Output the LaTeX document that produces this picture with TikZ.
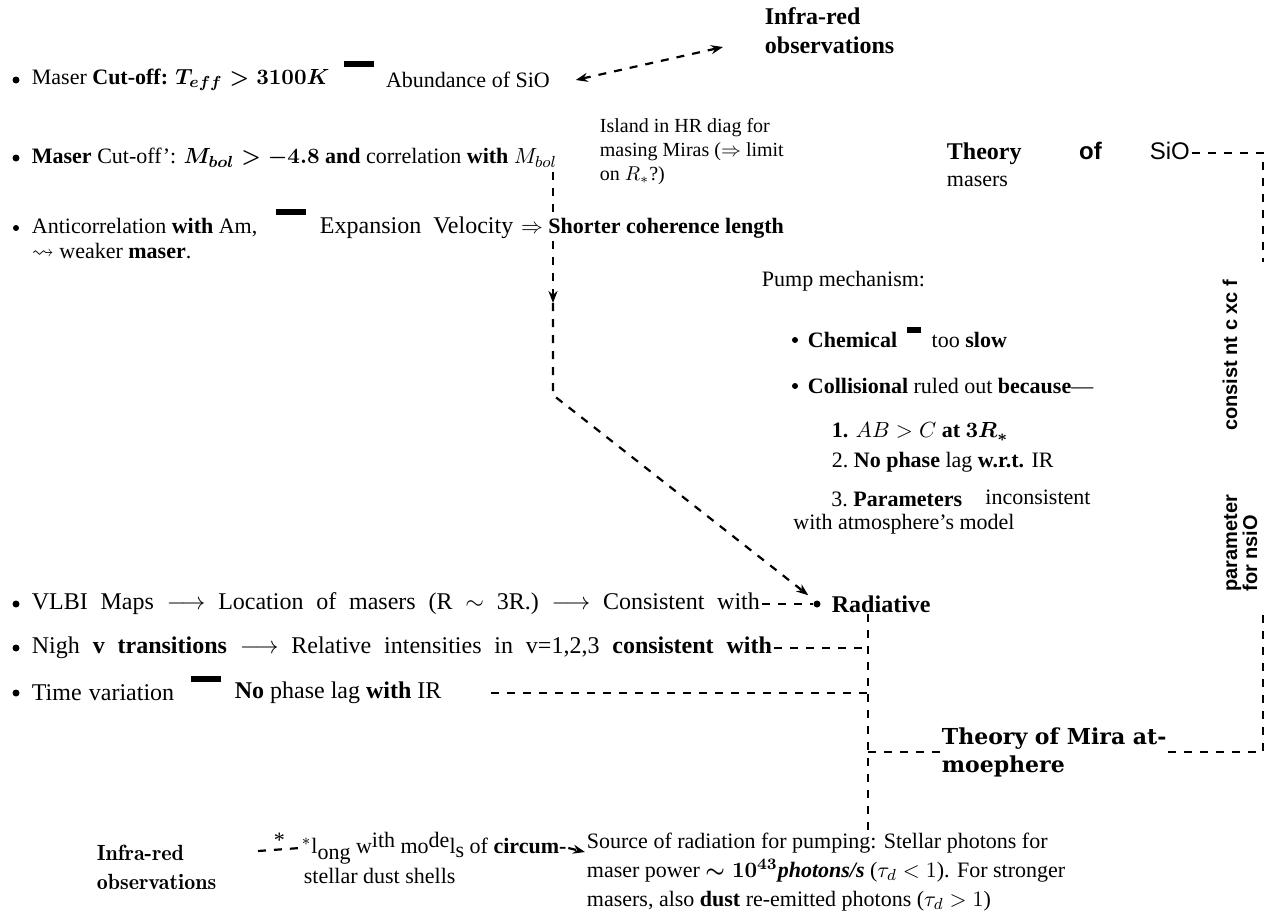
\documentclass[tikz,border=0pt]{standalone}
\usepackage{amsmath}
\usepackage{amssymb}
\usepackage{fontspec}
\setmainfont{Liberation Serif}
\newfontfamily\mirafont{DejaVu Serif}
\newfontfamily\sansfont{Liberation Sans}
\usetikzlibrary{positioning}
\usetikzlibrary{arrows.meta}

\begin{document}
\begin{tikzpicture}[x=0.5pt,y=-0.5pt,
  txt/.style={anchor=west,inner sep=0.75pt,font=\fontsize{11}{14.5}\selectfont},
  bigtxt/.style={anchor=west,inner sep=0.75pt,font=\fontsize{12}{14.5}\selectfont},
  dashln/.style={line width=1.1pt,dash pattern=on 4pt off 4pt},
  barbox/.style={fill=black,minimum width=15pt,minimum height=3pt,inner sep=0pt},
  dot/.style={circle,fill=black,inner sep=0pt,minimum size=3.5pt},
  sidetxt/.style={rotate=90,anchor=west,inner sep=0.5pt,font=\sansfont\fontsize{10}{11}\selectfont\bfseries}]
\useasboundingbox (0,0) rectangle (1278,922);

%Text: infra-red at the top
\node[txt,align=left,font=\fontsize{12}{14.5}\selectfont\bfseries] (irtop) at (763,31) {Infra-red\\observations};

%Bullets: maser cut-off
\node[dot] (b1) at (16,80) {};
\node[txt] (cutT) at (30,80) {Maser \textbf{Cut-off:} $\boldsymbol{T_{eff} > 3100K}$};
\node[barbox, right=6pt of cutT, yshift=8pt] (bar1) {};
\node[txt, right=5pt of bar1, yshift=-8pt] (abund) {Abundance of SiO};

\node[dot] (b2) at (16,158) {};
\node[txt] (cut2) at (30,158) {\textbf{Maser} Cut-off': $\boldsymbol{M_{bol} > -4.8}$ \textbf{and} correlation \textbf{with} $M_{bol}$};

%Text: island in HR diagram
\node[txt,align=left,font=\fontsize{10}{12}\selectfont] (island) at (598,152) {Island in HR diag for\\masing Miras ($\Rightarrow$ limit\\on $R_*$?)};

%Text: theory of SiO masers
\node[txt,font=\fontsize{12}{14}\selectfont] (thsio) at (945,153) {\textbf{Theory}\hspace{2.4em}{\sansfont\bfseries of}\hspace{2em}{\sansfont SiO}};
\node[txt] (masers) at (945,181) {masers};

%Bullets: anticorrelation
\node[dot,minimum size=3pt] (b3) at (16,228) {};
\node[txt] (anti) at (30,228) {Anticorrelation \textbf{with} Am,};
\node[barbox, right=8pt of anti, yshift=8pt] (bar3) {};
\node[bigtxt, right=6pt of bar3, yshift=-8pt] (expv) {Expansion\hspace{0.5em}Velocity};
\node[txt, right=2pt of expv] (shorter) {$\Rightarrow$ \textbf{Shorter coherence length}};
\node[txt] (weak) at (30,251) {$\rightsquigarrow$ weaker \textbf{maser}.};

%Text: pump mechanism
\node[txt] (pump) at (760,281) {Pump mechanism:};
\node[dot,minimum size=3pt] (b5) at (795,340) {};
\node[txt] (chem) at (806,340) {\textbf{Chemical}};
\node[barbox,minimum width=7pt, right=4pt of chem, yshift=5pt] (bar5) {};
\node[txt, right=4pt of bar5, yshift=-5pt] (slow) {too \textbf{slow}};
\node[dot,minimum size=3pt] (b6) at (795,386) {};
\node[txt] (coll) at (806,386) {\textbf{Collisional} ruled out \textbf{because}---};
\node[txt] (r1) at (830,432) {\textbf{1.} $AB > C$ \textbf{at} $\boldsymbol{3R_*}$};
\node[txt] (r2) at (830,462) {2.\ \textbf{No phase} lag \textbf{w.r.t.} IR};
\node[txt,inner sep=0pt] (r3) at (831,499) {3.\ \textbf{Parameters}};
\node[txt,inner sep=0pt] (r3b) at (985,497) {inconsistent};
\node[txt,inner sep=0pt] (r3c) at (793,524) {with atmosphere's model};

%Text: radiative
\node[dot] (raddot) at (817,604) {};
\node[txt,font=\fontsize{12}{14}\selectfont\bfseries] (rad) at (830,604) {Radiative};

%Bullets: observations
\node[dot] (b7) at (16,604) {};
\node[bigtxt] (vlbi) at (30,604) {\makebox[364pt][s]{VLBI Maps $\longrightarrow$ Location of masers (R $\sim$ 3R.) $\longrightarrow$ Consistent with}};
\node[dot] (b8) at (16,648) {};
\node[bigtxt] (nigh) at (30,648) {\makebox[370pt][s]{Nigh \textbf{v transitions} $\longrightarrow$ Relative intensities in v=1,2,3 \textbf{consistent with}}};
\node[dot] (b9) at (16,693) {};
\node[bigtxt] (timev) at (30,693) {Time\hspace{0.3em}variation};
\node[barbox, right=7pt of timev, yshift=7pt] (bar9) {};
\node[bigtxt, right=6pt of bar9, yshift=-7pt] (nolag) {\textbf{No} phase lag \textbf{with} IR};

%Text: theory of Mira atmosphere
\node[txt,align=left,font=\mirafont\fontsize{11}{14}\selectfont\bfseries] (mira) at (940,752) {Theory of Mira at-\\moephere};

%Text: side label
\node[sidetxt] (param) at (1232,593) {parameter\hspace{3.2em}consist nt c xc f};
\node[sidetxt] (fornsio) at (1250,593) {for nsiO};

%Text: bottom row
\node[txt,align=left,font=\fontfamily{lmr}\fontsize{11}{14.5}\selectfont\bfseries] (irbot) at (95,867) {Infra-red\\observations};
\node[txt] (star) at (272,840) {*};
\node[txt] (along) at (300,848) {$^*$l\raisebox{-0.6ex}{ong} w\raisebox{0.6ex}{ith} mo\raisebox{0.6ex}{de}l\raisebox{-0.4ex}{s} of \textbf{circum-}};
\node[txt] (shells) at (302,876) {stellar dust shells};
\node[txt,align=left] (src) at (585,872) {Source of radiation for pumping: Stellar photons for\\maser power $\boldsymbol{\sim 10^{43}}$\textbf{\textit{photons/s}} ($\tau_d < 1$). For stronger\\masers, also \textbf{dust} re-emitted photons ($\tau_d > 1$)};

%Coordinates for the bends
\coordinate (vtop) at (553,172);
\coordinate (vmid) at (553,303);
\coordinate (vbend) at (553,395);
\coordinate (lvx) at (868,835);
\coordinate (rvtop) at (1263,262);
\coordinate (rvbot) at (1263,612);
\coordinate (irstart) at (258,851);

%Connectors
\draw[dashln,{Stealth[length=6pt]}-{Stealth[length=6pt]}] ([xshift=12pt]abund.east) -- ([xshift=-20pt,yshift=-8pt]irtop.west);
\draw[dashln] (vtop) -- (expv.north -| vtop);
\draw[dashln,-{Stealth[length=6pt]}] (expv.south -| vtop) -- (vmid);
\draw[dashln,-{Stealth[length=6pt]}] (vmid) -- (vbend) -- ([xshift=-3pt,yshift=3pt]raddot.north west);
\draw[dashln] (vlbi.east) -- (raddot.west);
\draw[dashln] (rad.south -| lvx) -- (lvx);
\draw[dashln] (nigh.east) -- (nigh.east -| lvx);
\draw[dashln] ([xshift=24pt]nolag.east) -- (nolag.east -| lvx);
\draw[dashln] (mira.west -| lvx) -- (mira.west);
\draw[dashln] (thsio.east) -- (thsio.east -| rvtop) -- (rvtop);
\draw[dashln] (mira.east) -- (mira.east -| rvbot) -- (rvbot);
\draw[dashln] (irstart) -- (along.west);
\draw[dashln,-{Stealth[length=6pt]}] (along.east) -- ([yshift=10pt]src.west);

\end{tikzpicture}
\end{document}
